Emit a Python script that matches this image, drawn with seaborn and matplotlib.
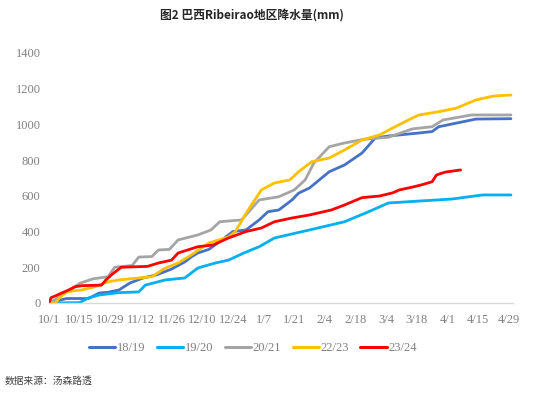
import pandas as pd
import matplotlib
matplotlib.use("Agg")
import matplotlib.pyplot as plt
import seaborn as sns

# Cumulative rainfall (mm), x = days since 10/1
blue_days = [0, 3, 8, 18, 23, 27, 32, 37, 43, 49, 56, 62, 65, 68, 73, 79, 84, 90, 96, 100, 105, 111, 114, 119, 128, 135, 143, 149, 155, 169, 175, 178, 195, 211]
blue_vals = [0, 10, 25, 25, 56, 60, 73, 112, 140, 157, 190, 230, 258, 280, 300, 353, 400, 409, 465, 511, 521, 577, 615, 644, 735, 773, 840, 924, 935, 952, 960, 987, 1030, 1032]

cyan_days = [0, 14, 18, 23, 32, 41, 44, 53, 62, 68, 76, 82, 89, 96, 103, 109, 119, 135, 146, 155, 164, 184, 198, 211]
cyan_vals = [0, 2, 28, 45, 58, 62, 100, 129, 140, 196, 224, 240, 280, 315, 364, 381, 409, 455, 511, 560, 567, 582, 605, 605]

gray_days = [0, 3, 8, 14, 20, 27, 30, 38, 41, 47, 50, 55, 59, 68, 74, 78, 88, 96, 105, 112, 117, 121, 128, 135, 144, 155, 166, 175, 180, 193, 211]
gray_vals = [0, 20, 60, 110, 135, 147, 200, 210, 257, 260, 297, 300, 353, 381, 409, 455, 465, 577, 595, 633, 689, 784, 875, 896, 917, 928, 975, 987, 1025, 1053, 1053]

yellow_days = [0, 3, 5, 8, 15, 21, 27, 32, 41, 47, 53, 59, 65, 73, 82, 85, 91, 97, 103, 110, 114, 120, 128, 135, 143, 151, 157, 166, 169, 178, 186, 195, 203, 211]
yellow_vals = [0, 0, 33, 63, 73, 91, 119, 129, 140, 147, 195, 224, 269, 336, 370, 398, 521, 633, 672, 689, 735, 791, 812, 857, 913, 941, 980, 1036, 1053, 1071, 1091, 1137, 1159, 1165]

red_days = [0, 1, 3, 9, 12, 15, 24, 26, 29, 33, 45, 50, 56, 59, 68, 75, 82, 90, 97, 103, 111, 119, 129, 135, 143, 151, 157, 160, 166, 170, 175, 177, 181, 188]
red_vals = [0, 30, 40, 73, 91, 97, 100, 129, 162, 200, 205, 224, 240, 280, 315, 325, 364, 400, 420, 455, 476, 493, 521, 549, 590, 599, 617, 633, 649, 661, 679, 717, 733, 745]

series_names = ["18/19", "19/20", "20/21", "22/23", "23/24"]
series_colors = ["#4472C4", "#00B0F0", "#A5A5A5", "#FFC000", "#FF0000"]

tick_days = list(range(0, 211, 14))
tick_labels = ["10/1", "10/15", "10/29", "11/12", "11/26", "12/10", "12/24", "1/7",
               "1/21", "2/4", "2/18", "3/4", "3/18", "4/1", "4/15", "4/29"]

frames = []
for name, d, v in zip(series_names,
                      [blue_days, cyan_days, gray_days, yellow_days, red_days],
                      [blue_vals, cyan_vals, gray_vals, yellow_vals, red_vals]):
    frames.append(pd.DataFrame({"day": d, "rain": v, "season": name}))
df = pd.concat(frames, ignore_index=True)

sns.set_style("white")
serif = ["Liberation Serif", "DejaVu Serif"]
plt.rcParams["font.family"] = serif

fig = plt.figure(figsize=(5.5, 3.94), dpi=100)
ax = fig.add_axes([0.089, 0.231, 0.844, 0.6345])

sns.lineplot(data=df, x="day", y="rain", hue="season", palette=series_colors,
             hue_order=series_names, linewidth=2.0, ax=ax, legend=False,
             estimator=None, sort=False)

ax.set_xlim(0, 212)
ax.set_ylim(0, 1400)
ax.set_yticks(range(0, 1401, 200))
ax.set_xticks(tick_days)
ax.set_xticklabels(tick_labels, fontfamily=serif)
ax.set_yticklabels([str(v) for v in range(0, 1401, 200)], fontfamily=serif)
ax.set_xlabel("")
ax.set_ylabel("")

for s in ["top", "right", "left"]:
    ax.spines[s].set_visible(False)
ax.spines["bottom"].set_color("#d9d9d9")
ax.spines["bottom"].set_linewidth(1.0)
ax.tick_params(axis="x", colors="#d9d9d9", length=4, width=1, direction="out",
               labelcolor="#808080", labelsize=9, pad=4)
ax.tick_params(axis="y", length=0, labelcolor="#808080", labelsize=9, pad=6)
ax.grid(False)

handles = [plt.Line2D([], [], color=c, lw=2.2) for c in series_colors]
fig.legend(handles, series_names, loc="center", ncol=5, frameon=False,
           bbox_to_anchor=(253 / 550, 1 - 348 / 394), handlelength=2.1,
           handletextpad=0.15, columnspacing=0.9, labelcolor="#808080",
           prop={"family": serif, "size": 9})

fig.text(252 / 550, 1 - 15 / 394, "图2 巴西Ribeirao地区降水量(mm)", ha="center", va="center",
         fontsize=8.5, fontweight="bold", color="#262626",
         family=["Noto Sans CJK SC", "DejaVu Sans"])
fig.text(5 / 550, 1 - 381 / 394, "数据来源：汤森路透", ha="left", va="center",
         fontsize=7, style="italic", color="#404040",
         family=["Noto Sans CJK SC", "DejaVu Sans"])

fig.savefig("out.png", dpi=100)
